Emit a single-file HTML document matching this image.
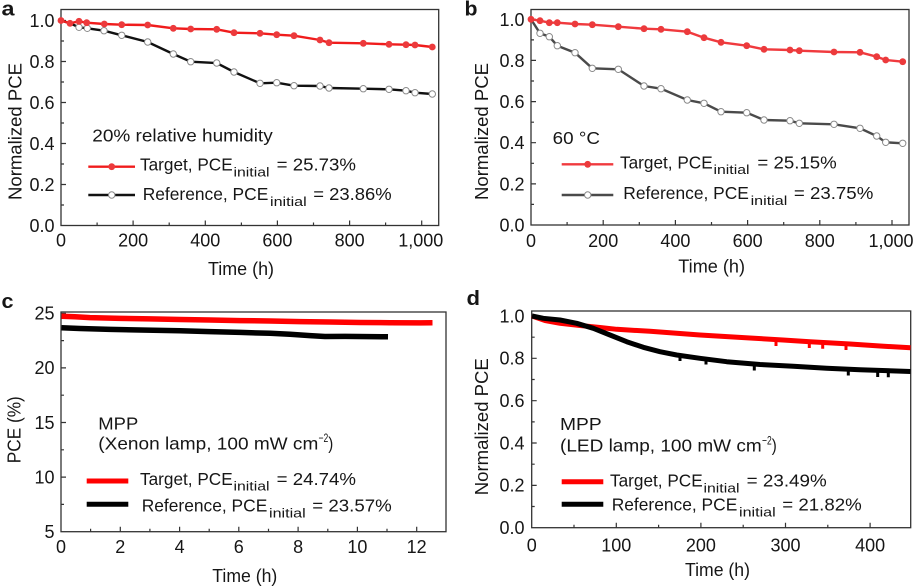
<!DOCTYPE html>
<html><head><meta charset="utf-8"><style>
html,body{margin:0;padding:0;background:#fff;}
svg{display:block;}
text{font-family:"Liberation Sans",Arial,Helvetica,sans-serif;fill:#161616;}
</style></head><body>
<svg width="914" height="588" viewBox="0 0 914 588" xmlns="http://www.w3.org/2000/svg">

<!-- ================= PANEL A ================= -->
<text x="1.5" y="15.5" font-size="20" font-weight="bold" textLength="13" lengthAdjust="spacingAndGlyphs">a</text>
<rect x="61" y="9.5" width="377.7" height="216" fill="none" stroke="#333" stroke-width="1.3"/>
<path d="M97.1 225.5v-3M133.1 225.5v-5M169.2 225.5v-3M205.3 225.5v-5M241.4 225.5v-3M277.4 225.5v-5M313.5 225.5v-3M349.6 225.5v-5M385.6 225.5v-3M421.7 225.5v-5
M61 205h3M61 184.5h5M61 164h3M61 143.5h5M61 123h3M61 102.5h5M61 82h3M61 61.5h5M61 41h3M61 20.5h5" stroke="#333" stroke-width="1.2" fill="none"/>
<g font-size="18" text-anchor="end">
<text x="54.5" y="232">0.0</text><text x="54.5" y="191">0.2</text><text x="54.5" y="150">0.4</text>
<text x="54.5" y="109">0.6</text><text x="54.5" y="68">0.8</text><text x="54.5" y="27">1.0</text>
</g>
<g font-size="18" text-anchor="middle">
<text x="61" y="246.5">0</text><text x="133.1" y="246.5">200</text><text x="205.3" y="246.5">400</text>
<text x="277.4" y="246.5">600</text><text x="349.6" y="246.5">800</text><text x="420.8" y="246.5">1,000</text>
</g>
<text x="208" y="275" font-size="18" textLength="66" lengthAdjust="spacingAndGlyphs">Time (h)</text>
<text transform="translate(21.5,131.5) rotate(-90)" x="0" y="0" font-size="18" text-anchor="middle" textLength="137" lengthAdjust="spacingAndGlyphs">Normalized PCE</text>

<polyline fill="none" stroke="#111" stroke-width="2.4" points="61,20.5 70,23.3 79,27.3 87.3,28.3 104,30.7 121.7,35.3 147.7,42 173.3,54 190.7,61.7 216.7,63 234,72 260,83.3 276.7,82.7 294,85.7 320,86 329,88 363.3,88.7 389,89.3 406,90.7 415,92.7 432.3,94"/>
<g fill="#fff" stroke="#8a8a8a" stroke-width="1">
<circle cx="79" cy="27.3" r="3.2"/><circle cx="87.3" cy="28.3" r="3.2"/><circle cx="104" cy="30.7" r="3.2"/><circle cx="121.7" cy="35.3" r="3.2"/><circle cx="147.7" cy="42" r="3.2"/><circle cx="173.3" cy="54" r="3.2"/><circle cx="190.7" cy="61.7" r="3.2"/><circle cx="216.7" cy="63" r="3.2"/><circle cx="234" cy="72" r="3.2"/><circle cx="260" cy="83.3" r="3.2"/><circle cx="276.7" cy="82.7" r="3.2"/><circle cx="294" cy="85.7" r="3.2"/><circle cx="320" cy="86" r="3.2"/><circle cx="329" cy="88" r="3.2"/><circle cx="363.3" cy="88.7" r="3.2"/><circle cx="389" cy="89.3" r="3.2"/><circle cx="406" cy="90.7" r="3.2"/><circle cx="415" cy="92.7" r="3.2"/><circle cx="432.3" cy="94" r="3.2"/>
</g>
<polyline fill="none" stroke="#f01c1c" stroke-width="2.4" points="61,20.5 70,23.3 79,21.3 86.7,22.7 104.3,24 121.7,24.7 147.7,25 173.3,28.3 190.7,29 216.7,29.3 234,32.7 260,33.3 276.7,34.7 294,35.7 320,40 329,42.7 363.3,43.3 389,44.3 406,44.7 415,45 432.3,47"/>
<g fill="#ec3a3c">
<circle cx="61" cy="20.5" r="3.4"/><circle cx="70" cy="23.3" r="3.4"/><circle cx="79" cy="21.3" r="3.4"/><circle cx="86.7" cy="22.7" r="3.4"/><circle cx="104.3" cy="24" r="3.4"/><circle cx="121.7" cy="24.7" r="3.4"/><circle cx="147.7" cy="25" r="3.4"/><circle cx="173.3" cy="28.3" r="3.4"/><circle cx="190.7" cy="29" r="3.4"/><circle cx="216.7" cy="29.3" r="3.4"/><circle cx="234" cy="32.7" r="3.4"/><circle cx="260" cy="33.3" r="3.4"/><circle cx="276.7" cy="34.7" r="3.4"/><circle cx="294" cy="35.7" r="3.4"/><circle cx="320" cy="40" r="3.4"/><circle cx="329" cy="42.7" r="3.4"/><circle cx="363.3" cy="43.3" r="3.4"/><circle cx="389" cy="44.3" r="3.4"/><circle cx="406" cy="44.7" r="3.4"/><circle cx="415" cy="45" r="3.4"/><circle cx="432.3" cy="47" r="3.4"/>
</g>
<!-- legend a -->
<text x="92.3" y="141.7" font-size="17.5" textLength="180.4" lengthAdjust="spacingAndGlyphs">20% relative humidity</text>
<line x1="88.3" y1="166.7" x2="135" y2="166.7" stroke="#f01c1c" stroke-width="2.4"/>
<circle cx="111.7" cy="166.7" r="3.4" fill="#ec3a3c"/>
<line x1="88.3" y1="195" x2="135" y2="195" stroke="#111" stroke-width="2.4"/>
<circle cx="111.7" cy="195" r="3.2" fill="#fff" stroke="#8a8a8a" stroke-width="1"/>
<text x="140" y="170.7" font-size="17.5" textLength="92.7" lengthAdjust="spacingAndGlyphs">Target, PCE</text>
<text x="233.5" y="176.3" font-size="13" textLength="36" lengthAdjust="spacingAndGlyphs">initial</text>
<text x="276.7" y="170.7" font-size="17.5" textLength="79.3" lengthAdjust="spacingAndGlyphs">= 25.73%</text>
<text x="142.7" y="200" font-size="17.5" textLength="125.6" lengthAdjust="spacingAndGlyphs">Reference, PCE</text>
<text x="270" y="205.8" font-size="13" textLength="36.7" lengthAdjust="spacingAndGlyphs">initial</text>
<text x="313.3" y="200" font-size="17.5" textLength="78.4" lengthAdjust="spacingAndGlyphs">= 23.86%</text>

<!-- ================= PANEL B ================= -->
<text x="464.5" y="15.5" font-size="20" font-weight="bold" textLength="13" lengthAdjust="spacingAndGlyphs">b</text>
<rect x="531" y="9.5" width="378" height="215.5" fill="none" stroke="#333" stroke-width="1.3"/>
<path d="M567.1 225v-3M603.2 225v-5M639.3 225v-3M675.4 225v-5M711.5 225v-3M747.6 225v-5M783.7 225v-3M819.8 225v-5M855.9 225v-3M892 225v-5
M531 204.4h3M531 183.9h5M531 163.3h3M531 142.7h5M531 122.2h3M531 101.6h5M531 81h3M531 60.4h5M531 39.9h3M531 19.3h5" stroke="#333" stroke-width="1.2" fill="none"/>
<g font-size="18" text-anchor="end">
<text x="524.5" y="231.5">0.0</text><text x="524.5" y="190.4">0.2</text><text x="524.5" y="149.2">0.4</text>
<text x="524.5" y="108.1">0.6</text><text x="524.5" y="66.9">0.8</text><text x="524.5" y="25.8">1.0</text>
</g>
<g font-size="18" text-anchor="middle">
<text x="531" y="247">0</text><text x="603.2" y="247">200</text><text x="675.4" y="247">400</text>
<text x="747.6" y="247">600</text><text x="819.8" y="247">800</text><text x="891" y="247">1,000</text>
</g>
<text x="678.3" y="272.5" font-size="18" textLength="66.7" lengthAdjust="spacingAndGlyphs">Time (h)</text>
<text transform="translate(488,131.5) rotate(-90)" x="0" y="0" font-size="18" text-anchor="middle" textLength="137" lengthAdjust="spacingAndGlyphs">Normalized PCE</text>

<polyline fill="none" stroke="#4a4a4a" stroke-width="2.4" points="531,19.3 540,33.3 549.3,36.7 557.3,45.7 575,52.7 592.3,68.3 618.3,69.3 644,86 661,88.7 687.3,100 704,103.3 721,111.7 746.7,112.7 764,120 790,120.7 799.3,123.3 834,124.3 860,128.3 876.7,136 885.7,142.3 902.7,143.3"/>
<g fill="#fff" stroke="#8a8a8a" stroke-width="1">
<circle cx="540" cy="33.3" r="3.2"/><circle cx="549.3" cy="36.7" r="3.2"/><circle cx="557.3" cy="45.7" r="3.2"/><circle cx="575" cy="52.7" r="3.2"/><circle cx="592.3" cy="68.3" r="3.2"/><circle cx="618.3" cy="69.3" r="3.2"/><circle cx="644" cy="86" r="3.2"/><circle cx="661" cy="88.7" r="3.2"/><circle cx="687.3" cy="100" r="3.2"/><circle cx="704" cy="103.3" r="3.2"/><circle cx="721" cy="111.7" r="3.2"/><circle cx="746.7" cy="112.7" r="3.2"/><circle cx="764" cy="120" r="3.2"/><circle cx="790" cy="120.7" r="3.2"/><circle cx="799.3" cy="123.3" r="3.2"/><circle cx="834" cy="124.3" r="3.2"/><circle cx="860" cy="128.3" r="3.2"/><circle cx="876.7" cy="136" r="3.2"/><circle cx="885.7" cy="142.3" r="3.2"/><circle cx="902.7" cy="143.3" r="3.2"/>
</g>
<polyline fill="none" stroke="#f03a3e" stroke-width="2.4" points="531,19.3 540,20.7 549.3,22.7 557.3,22.7 575,24 592.3,24.7 618.3,26.7 644,28.7 661,29.3 687.3,31.7 704,37.7 721,42.3 746.7,45.7 764,49.3 790,50 799.3,50.7 834,52 860,52.3 876.7,56.7 885.7,60 902.7,61.7"/>
<g fill="#ec3a3c">
<circle cx="531" cy="19.3" r="3.4"/><circle cx="540" cy="20.7" r="3.4"/><circle cx="549.3" cy="22.7" r="3.4"/><circle cx="557.3" cy="22.7" r="3.4"/><circle cx="575" cy="24" r="3.4"/><circle cx="592.3" cy="24.7" r="3.4"/><circle cx="618.3" cy="26.7" r="3.4"/><circle cx="644" cy="28.7" r="3.4"/><circle cx="661" cy="29.3" r="3.4"/><circle cx="687.3" cy="31.7" r="3.4"/><circle cx="704" cy="37.7" r="3.4"/><circle cx="721" cy="42.3" r="3.4"/><circle cx="746.7" cy="45.7" r="3.4"/><circle cx="764" cy="49.3" r="3.4"/><circle cx="790" cy="50" r="3.4"/><circle cx="799.3" cy="50.7" r="3.4"/><circle cx="834" cy="52" r="3.4"/><circle cx="860" cy="52.3" r="3.4"/><circle cx="876.7" cy="56.7" r="3.4"/><circle cx="885.7" cy="60" r="3.4"/><circle cx="902.7" cy="61.7" r="3.4"/>
</g>
<!-- legend b -->
<text x="552.7" y="144" font-size="17.5" textLength="47.3" lengthAdjust="spacingAndGlyphs">60 °C</text>
<line x1="561.7" y1="164.3" x2="613.3" y2="164.3" stroke="#f03a3e" stroke-width="2.4"/>
<circle cx="587.7" cy="164.3" r="3.4" fill="#ec3a3c"/>
<line x1="561.7" y1="195" x2="613.3" y2="195" stroke="#4a4a4a" stroke-width="2.4"/>
<circle cx="587.7" cy="195" r="3.2" fill="#fff" stroke="#8a8a8a" stroke-width="1"/>
<text x="620" y="168.3" font-size="17.5" textLength="92.7" lengthAdjust="spacingAndGlyphs">Target, PCE</text>
<text x="713.5" y="174" font-size="13" textLength="36" lengthAdjust="spacingAndGlyphs">initial</text>
<text x="757.4" y="168.3" font-size="17.5" textLength="79.3" lengthAdjust="spacingAndGlyphs">= 25.15%</text>
<text x="623.3" y="199" font-size="17.5" textLength="125.6" lengthAdjust="spacingAndGlyphs">Reference, PCE</text>
<text x="750.6" y="204.8" font-size="13" textLength="36.7" lengthAdjust="spacingAndGlyphs">initial</text>
<text x="793.9" y="199" font-size="17.5" textLength="79.4" lengthAdjust="spacingAndGlyphs">= 23.75%</text>

<!-- ================= PANEL C ================= -->
<text x="1.5" y="308" font-size="20" font-weight="bold" textLength="12" lengthAdjust="spacingAndGlyphs">c</text>
<rect x="61" y="312" width="385" height="219.7" fill="none" stroke="#333" stroke-width="1.3"/>
<path d="M90.6 531.7v-3M120.3 531.7v-5M149.9 531.7v-3M179.6 531.7v-5M209.2 531.7v-3M238.8 531.7v-5M268.5 531.7v-3M298.1 531.7v-5M327.8 531.7v-3M357.4 531.7v-5M387 531.7v-3M416.7 531.7v-5
M61 504.4h3M61 477.1h5M61 449.8h3M61 422.5h5M61 395.2h3M61 367.9h5M61 340.6h3M61 313.3h5" stroke="#333" stroke-width="1.2" fill="none"/>
<g font-size="18" text-anchor="end">
<text x="54.5" y="538">5</text><text x="54.5" y="483.5">10</text><text x="54.5" y="428.8">15</text>
<text x="54.5" y="374.2">20</text><text x="54.5" y="319.6">25</text>
</g>
<g font-size="18" text-anchor="middle">
<text x="61" y="553">0</text><text x="120.3" y="553">2</text><text x="179.6" y="553">4</text><text x="238.8" y="553">6</text>
<text x="298.1" y="553">8</text><text x="357.4" y="553">10</text><text x="416.7" y="553">12</text>
</g>
<text x="212.3" y="582" font-size="18" textLength="65" lengthAdjust="spacingAndGlyphs">Time (h)</text>
<text transform="translate(20.5,429.7) rotate(-90)" x="0" y="0" font-size="18" text-anchor="middle" textLength="67" lengthAdjust="spacingAndGlyphs">PCE (%)</text>

<path d="M61.5 316.3 L75 316.8 L90 317.6 L120 318.4 L150 318.9 L180 319.5 L210 320 L240 320.6 L270 321 L300 321.6 L330 322 L360 322.5 L390 322.7 L420 322.9 L432.5 322.8" fill="none" stroke="#ff0000" stroke-width="5.5" stroke-linejoin="round"/>
<path d="M61.5 327.7 L80 328.5 L110 329.4 L140 330 L180 330.8 L210 331.6 L240 332.4 L270 333.3 L290 334.3 L310 335.6 L325 336.5 L345 336.4 L370 336.6 L388 336.8" fill="none" stroke="#000" stroke-width="5.5" stroke-linejoin="round"/>
<!-- legend c -->
<text x="98.3" y="429.3" font-size="17.5" textLength="40" lengthAdjust="spacingAndGlyphs">MPP</text>
<text x="98.3" y="449.3" font-size="17.5" textLength="220" lengthAdjust="spacingAndGlyphs">(Xenon lamp, 100 mW cm</text>
<text x="318.5" y="442" font-size="12" textLength="9.8" lengthAdjust="spacingAndGlyphs">−2</text>
<text x="328.3" y="449.3" font-size="17.5" textLength="5" lengthAdjust="spacingAndGlyphs">)</text>
<line x1="86.7" y1="481" x2="128.3" y2="481" stroke="#ff0000" stroke-width="5"/>
<line x1="86.7" y1="504.3" x2="128.3" y2="504.3" stroke="#000" stroke-width="5"/>
<text x="140" y="485" font-size="17.5" textLength="92.7" lengthAdjust="spacingAndGlyphs">Target, PCE</text>
<text x="233.5" y="490.6" font-size="13" textLength="36" lengthAdjust="spacingAndGlyphs">initial</text>
<text x="276.7" y="485" font-size="17.5" textLength="79.3" lengthAdjust="spacingAndGlyphs">= 24.74%</text>
<text x="141.7" y="511.7" font-size="17.5" textLength="125.6" lengthAdjust="spacingAndGlyphs">Reference, PCE</text>
<text x="269" y="517.4" font-size="13" textLength="36.7" lengthAdjust="spacingAndGlyphs">initial</text>
<text x="312.3" y="511.7" font-size="17.5" textLength="79.4" lengthAdjust="spacingAndGlyphs">= 23.57%</text>

<!-- ================= PANEL D ================= -->
<text x="466.5" y="305" font-size="20" font-weight="bold" textLength="13.5" lengthAdjust="spacingAndGlyphs">d</text>
<rect x="531.7" y="311" width="379" height="216.7" fill="none" stroke="#333" stroke-width="1.3"/>
<path d="M574 527.7v-3M616.3 527.7v-5M658.6 527.7v-3M700.9 527.7v-5M743.2 527.7v-3M785.5 527.7v-5M827.8 527.7v-3M870.1 527.7v-5
M531.7 506.5h3M531.7 485.4h5M531.7 464.2h3M531.7 443h5M531.7 421.9h3M531.7 400.7h5M531.7 379.5h3M531.7 358.3h5M531.7 337.2h3M531.7 316h5" stroke="#333" stroke-width="1.2" fill="none"/>
<g font-size="18" text-anchor="end">
<text x="524.5" y="534">0.0</text><text x="524.5" y="491.7">0.2</text><text x="524.5" y="449.3">0.4</text>
<text x="524.5" y="407">0.6</text><text x="524.5" y="364.6">0.8</text><text x="524.5" y="322.3">1.0</text>
</g>
<g font-size="18" text-anchor="middle">
<text x="531.7" y="551.5">0</text><text x="616.3" y="551.5">100</text><text x="700.9" y="551.5">200</text>
<text x="785.5" y="551.5">300</text><text x="870.1" y="551.5">400</text>
</g>
<text x="685" y="576" font-size="18" textLength="65" lengthAdjust="spacingAndGlyphs">Time (h)</text>
<text transform="translate(488,426.7) rotate(-90)" x="0" y="0" font-size="18" text-anchor="middle" textLength="137" lengthAdjust="spacingAndGlyphs">Normalized PCE</text>

<path d="M532 316 L545 320.5 L560 323.3 L580 325.5 L600 327.5 L616.7 329.3 L650 331.3 L700 335 L750 338 L783 340 L810 341.8 L850 344 L880 346 L910.5 347.8" fill="none" stroke="#ff0000" stroke-width="5" stroke-linejoin="round"/>
<path d="M776 339.5v6.5M809.3 341.5v6.5M822.7 342.3v6.5M846 343.5v6.5" stroke="#ff0000" stroke-width="3" fill="none"/>
<path d="M532 316 L543.3 318.3 L560 320 L576.7 323.3 L593.3 328.3 L610 335 L626.7 341.7 L643.3 347.3 L660 351.7 L676.7 355 L700 358.3 L726.7 361.7 L760 364.5 L793.3 366.3 L826.7 368.3 L860 369.8 L910.5 371.5" fill="none" stroke="#000" stroke-width="5" stroke-linejoin="round"/>
<path d="M680 355.5v5.5M706 359v5.5M754.3 364v6.5M848.3 369v6.5M877.7 370v7M888.3 370.3v7" stroke="#000" stroke-width="3" fill="none"/>
<!-- legend d -->
<text x="560" y="430" font-size="17.5" textLength="41.7" lengthAdjust="spacingAndGlyphs">MPP</text>
<text x="560" y="451.7" font-size="17.5" textLength="201.7" lengthAdjust="spacingAndGlyphs">(LED lamp, 100 mW cm</text>
<text x="762" y="444.4" font-size="12" textLength="9.7" lengthAdjust="spacingAndGlyphs">−2</text>
<text x="771.7" y="451.7" font-size="17.5" textLength="5" lengthAdjust="spacingAndGlyphs">)</text>
<line x1="561.7" y1="481.7" x2="603.3" y2="481.7" stroke="#ff0000" stroke-width="5"/>
<line x1="561.7" y1="504.3" x2="603.3" y2="504.3" stroke="#000" stroke-width="5"/>
<text x="610" y="486.7" font-size="17.5" textLength="92.7" lengthAdjust="spacingAndGlyphs">Target, PCE</text>
<text x="703.5" y="492.3" font-size="13" textLength="36" lengthAdjust="spacingAndGlyphs">initial</text>
<text x="746.7" y="486.7" font-size="17.5" textLength="80" lengthAdjust="spacingAndGlyphs">= 23.49%</text>
<text x="611.7" y="510.7" font-size="17.5" textLength="125.6" lengthAdjust="spacingAndGlyphs">Reference, PCE</text>
<text x="739" y="516.4" font-size="13" textLength="36.7" lengthAdjust="spacingAndGlyphs">initial</text>
<text x="782.3" y="510.7" font-size="17.5" textLength="79.4" lengthAdjust="spacingAndGlyphs">= 21.82%</text>

</svg>
</body></html>
